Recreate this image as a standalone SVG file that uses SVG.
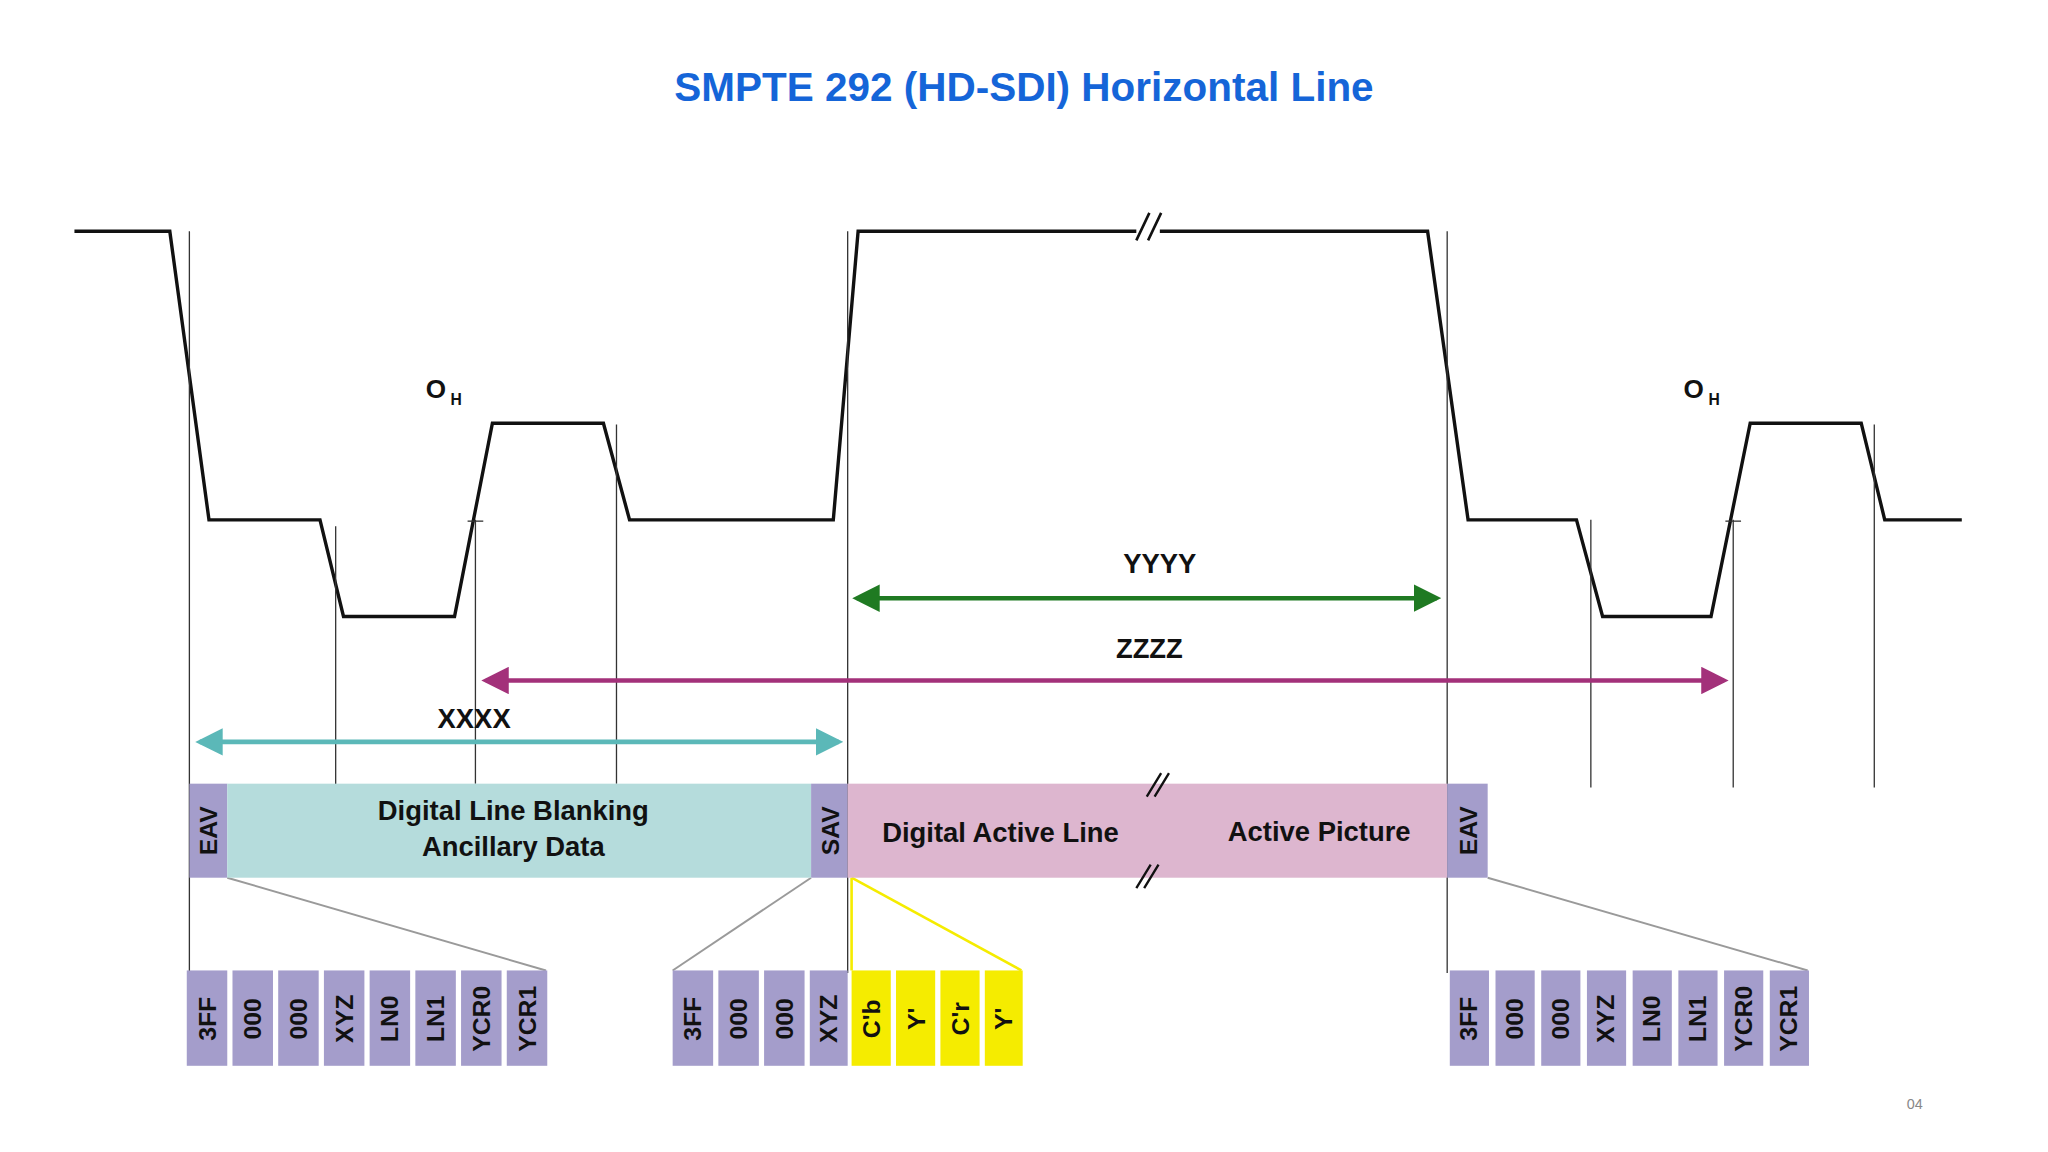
<svg xmlns="http://www.w3.org/2000/svg" width="2048" height="1152" viewBox="0 0 2048 1152">
<style>
.w{fill:none;stroke:#111;stroke-width:2.6;stroke-linejoin:miter}
.v{stroke:#333;stroke-width:1}
.f{stroke:#9a9a9a;stroke-width:1.5;fill:none}
.t{font-family:"Liberation Sans",Arial,sans-serif;font-weight:bold;fill:#111}
.c{fill:#a49dcb}
.y{fill:#f5ec00}
.ct{font-family:"Liberation Sans",Arial,sans-serif;font-weight:bold;font-size:19px;fill:#111;text-anchor:middle}
</style>
<defs>
<marker id="ag" markerWidth="6" markerHeight="6" refX="5" refY="3" orient="auto-start-reverse" markerUnits="strokeWidth"><path d="M0,0L6,3L0,6z" fill="#1f7a22"/></marker>
<marker id="am" markerWidth="6" markerHeight="6" refX="5" refY="3" orient="auto-start-reverse" markerUnits="strokeWidth"><path d="M0,0L6,3L0,6z" fill="#a3317a"/></marker>
<marker id="at" markerWidth="6" markerHeight="6" refX="5" refY="3" orient="auto-start-reverse" markerUnits="strokeWidth"><path d="M0,0L6,3L0,6z" fill="#5bb8b8"/></marker>
</defs>
<rect width="2048" height="1152" fill="#fff"/>
<g transform="scale(1.30612)">
<text x="784" y="77" text-anchor="middle" font-family="'Liberation Sans',Arial,sans-serif" font-weight="bold" font-size="31" fill="#1565d8">SMPTE 292 (HD-SDI) Horizontal Line</text>

<g id="waveform">
<polyline class="w" points="57,177 130,177 160,398 245,398 263,472 348,472 377,324 462,324 482,398 638,398 657,177 870,177"/>
<polyline class="w" points="888,177 1093,177 1124,398 1207,398 1227,472 1310,472 1340,324 1425,324 1443,398 1502,398"/>
<path d="M870,184L880,163M879,184L889,163" stroke="#111" stroke-width="2"/>
<g class="v">
<line x1="145" y1="177" x2="145" y2="745"/>
<line x1="257" y1="403" x2="257" y2="603"/>
<line x1="364" y1="398" x2="364" y2="600"/>
<line x1="358" y1="399" x2="370" y2="399"/>
<line x1="472" y1="325" x2="472" y2="600"/>
<line x1="649" y1="177" x2="649" y2="745"/>
<line x1="1108" y1="177" x2="1108" y2="745"/>
<line x1="1218" y1="398" x2="1218" y2="603"/>
<line x1="1327" y1="398" x2="1327" y2="603"/>
<line x1="1321" y1="399" x2="1333" y2="399"/>
<line x1="1435" y1="325" x2="1435" y2="603"/>
</g>
<text class="t" x="326" y="305" font-size="20">O</text><text class="t" x="345" y="310" font-size="12">H</text>
<text class="t" x="1289" y="305" font-size="20">O</text><text class="t" x="1308" y="310" font-size="12">H</text>
</g>

<g id="connectors">
<line x1="656" y1="458" x2="1100" y2="458" stroke="#1f7a22" stroke-width="3.5" marker-start="url(#ag)" marker-end="url(#ag)"/>
<line x1="372" y1="521" x2="1320" y2="521" stroke="#a3317a" stroke-width="3.5" marker-start="url(#am)" marker-end="url(#am)"/>
<line x1="153" y1="568" x2="642" y2="568" stroke="#5bb8b8" stroke-width="3.5" marker-start="url(#at)" marker-end="url(#at)"/>
<line x1="174" y1="672" x2="418" y2="743" class="f"/>
<line x1="621" y1="672" x2="515" y2="743" class="f"/>
<line x1="652" y1="672" x2="782" y2="743" stroke="#f5ec00" stroke-width="2"/>
<line x1="652" y1="672" x2="652" y2="743" stroke="#f5ec00" stroke-width="2"/>
<line x1="1139" y1="672" x2="1384" y2="743" class="f"/>
</g>
<text class="t" x="888" y="439" font-size="21" text-anchor="middle">YYYY</text>
<text class="t" x="880" y="504" font-size="21" text-anchor="middle">ZZZZ</text>
<text class="t" x="363" y="557" font-size="21" text-anchor="middle">XXXX</text>

<g id="bar">
<rect x="145" y="600" width="29" height="72" class="c"/>
<rect x="174" y="600" width="447" height="72" fill="#b5dcdc"/>
<rect x="621" y="600" width="28" height="72" class="c"/>
<rect x="649" y="600" width="459" height="72" fill="#ddb6cf"/>
<rect x="1108" y="600" width="31" height="72" class="c"/>
<text class="ct" transform="translate(166,636) rotate(-90)" font-size="20">EAV</text>
<text class="ct" transform="translate(642,636) rotate(-90)" font-size="20">SAV</text>
<text class="ct" transform="translate(1131,636) rotate(-90)" font-size="20">EAV</text>
<text class="t" x="393" y="628" font-size="21" text-anchor="middle">Digital Line Blanking</text>
<text class="t" x="393" y="655" font-size="21" text-anchor="middle">Ancillary Data</text>
<text class="t" x="766" y="645" font-size="21" text-anchor="middle">Digital Active Line</text>
<text class="t" x="1010" y="644" font-size="21" text-anchor="middle">Active Picture</text>
<path d="M878,610L889,592M884,610L895,592" stroke="#111" stroke-width="1.8"/>
<path d="M870,680L881,662M876,680L887,662" stroke="#111" stroke-width="1.8"/>
</g>

<g id="eav-left">
<rect x="143" y="743" width="31" height="73" class="c"/><text class="ct" transform="translate(165,780) rotate(-90)">3FF</text>
<rect x="178" y="743" width="31" height="73" class="c"/><text class="ct" transform="translate(200,780) rotate(-90)">000</text>
<rect x="213" y="743" width="31" height="73" class="c"/><text class="ct" transform="translate(235,780) rotate(-90)">000</text>
<rect x="248" y="743" width="31" height="73" class="c"/><text class="ct" transform="translate(270,780) rotate(-90)">XYZ</text>
<rect x="283" y="743" width="31" height="73" class="c"/><text class="ct" transform="translate(305,780) rotate(-90)">LN0</text>
<rect x="318" y="743" width="31" height="73" class="c"/><text class="ct" transform="translate(340,780) rotate(-90)">LN1</text>
<rect x="353" y="743" width="31" height="73" class="c"/><text class="ct" transform="translate(375,780) rotate(-90)">YCR0</text>
<rect x="388" y="743" width="31" height="73" class="c"/><text class="ct" transform="translate(410,780) rotate(-90)">YCR1</text>
</g>
<g id="sav-mid">
<rect x="515" y="743" width="31" height="73" class="c"/><text class="ct" transform="translate(537,780) rotate(-90)">3FF</text>
<rect x="550" y="743" width="31" height="73" class="c"/><text class="ct" transform="translate(572,780) rotate(-90)">000</text>
<rect x="585" y="743" width="31" height="73" class="c"/><text class="ct" transform="translate(607,780) rotate(-90)">000</text>
<rect x="620" y="743" width="29" height="73" class="c"/><text class="ct" transform="translate(641,780) rotate(-90)">XYZ</text>
<rect x="652" y="743" width="30" height="73" class="y"/><text class="ct" transform="translate(674,780) rotate(-90)">C'b</text>
<rect x="686" y="743" width="30" height="73" class="y"/><text class="ct" transform="translate(708,780) rotate(-90)">Y'</text>
<rect x="720" y="743" width="30" height="73" class="y"/><text class="ct" transform="translate(742,780) rotate(-90)">C'r</text>
<rect x="754" y="743" width="29" height="73" class="y"/><text class="ct" transform="translate(775,780) rotate(-90)">Y'</text>
</g>
<g id="eav-right">
<rect x="1110" y="743" width="30" height="73" class="c"/><text class="ct" transform="translate(1131,780) rotate(-90)">3FF</text>
<rect x="1145" y="743" width="30" height="73" class="c"/><text class="ct" transform="translate(1166,780) rotate(-90)">000</text>
<rect x="1180" y="743" width="30" height="73" class="c"/><text class="ct" transform="translate(1201,780) rotate(-90)">000</text>
<rect x="1215" y="743" width="30" height="73" class="c"/><text class="ct" transform="translate(1236,780) rotate(-90)">XYZ</text>
<rect x="1250" y="743" width="30" height="73" class="c"/><text class="ct" transform="translate(1271,780) rotate(-90)">LN0</text>
<rect x="1285" y="743" width="30" height="73" class="c"/><text class="ct" transform="translate(1306,780) rotate(-90)">LN1</text>
<rect x="1320" y="743" width="30" height="73" class="c"/><text class="ct" transform="translate(1341,780) rotate(-90)">YCR0</text>
<rect x="1355" y="743" width="30" height="73" class="c"/><text class="ct" transform="translate(1376,780) rotate(-90)">YCR1</text>
</g>
<text x="1466" y="849" text-anchor="middle" font-family="'Liberation Sans',Arial,sans-serif" font-size="11" fill="#888">04</text>
</g>
</svg>
